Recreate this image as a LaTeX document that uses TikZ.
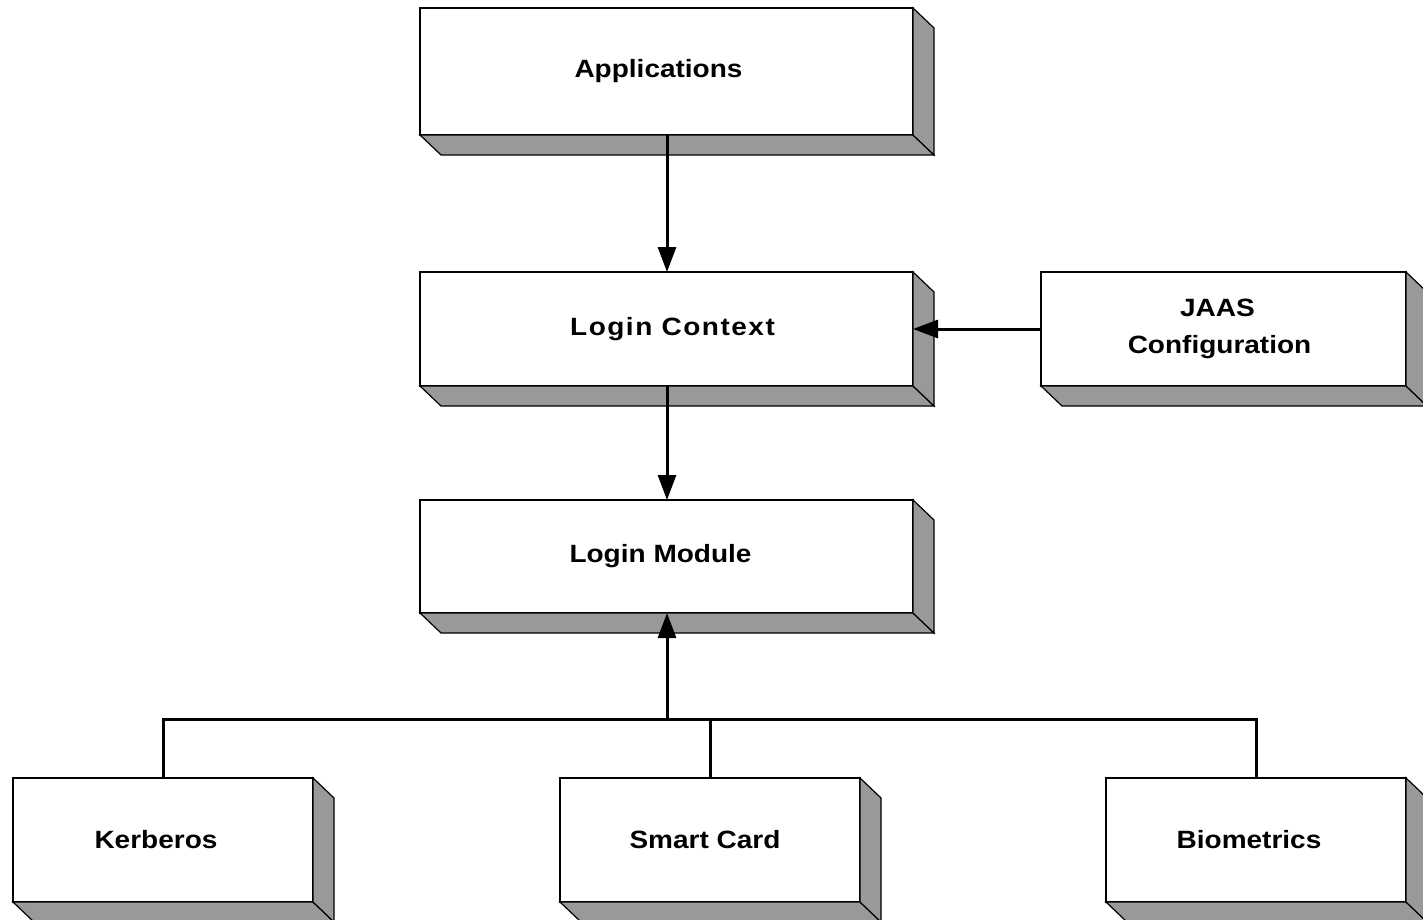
\documentclass[tikz,border=0pt]{standalone}
\usepackage{fontspec}
\usetikzlibrary{arrows.meta,calc}
\newfontfamily\labfont[FakeStretch=1.12]{Liberation Sans}
\newfontfamily\labfontwide[FakeStretch=1.12,LetterSpace=6]{Liberation Sans}
\definecolor{sidegray}{HTML}{999999}
\newcommand{\sh}[2]{\hspace*{#1pt}#2}
\tikzset{
  box/.style={draw=black, line width=1.5pt, fill=white, rectangle, outer sep=0pt, inner sep=0pt,
    align=center, font=\labfont\bfseries\fontsize{25}{37}\selectfont},
  side/.style={draw=black, line width=1.2pt, fill=sidegray, line join=miter},
  conn/.style={draw=black, line width=3pt},
  arr/.style={conn, -{Triangle[length=25pt,width=18pt]}},
}
\newcommand{\depthbox}[1]{%
  \path[side] (#1.south west) -- (#1.south east) -- ($(#1.south east)+(21,20)$) -- ($(#1.south west)+(21,20)$) -- cycle;
  \path[side] (#1.north east) -- ($(#1.north east)+(21,20)$) -- ($(#1.south east)+(21,20)$) -- (#1.south east) -- cycle;
}
\begin{document}
\begin{tikzpicture}[x=1pt,y=-1pt]
\useasboundingbox (0,0) rectangle (1423,920);
\node[box, minimum width=493pt, minimum height=127pt] (app) at (666.5,71.5) {\sh{-16}{Applications}};
\node[box, minimum width=493pt, minimum height=114pt] (lc) at (666.5,329) {\labfontwide\hspace*{12pt}Login Context};
\node[box, minimum width=365pt, minimum height=114pt] (jaas) at (1223.5,329) {\sh{-12}{JAAS}\\\sh{-8}{Configuration}};
\node[box, minimum width=493pt, minimum height=113pt] (lm) at (666.5,556.5) {\sh{-12}{Login Module}};
\node[box, minimum width=300pt, minimum height=124pt] (kerb) at (163,840) {\sh{-14}{Kerberos}};
\node[box, minimum width=300pt, minimum height=124pt] (smart) at (710,840) {\sh{-10}{Smart Card}};
\node[box, minimum width=300pt, minimum height=124pt] (bio) at (1256,840) {\sh{-14}{Biometrics}};
\depthbox{app}
\depthbox{lc}
\depthbox{jaas}
\depthbox{lm}
\depthbox{kerb}
\depthbox{smart}
\depthbox{bio}
\coordinate (j) at (667,719);
\draw[arr] (app.south -| j) -- (lc.north -| j);
\draw[arr] (lc.south -| j) -- (lm.north -| j);
\draw[arr] (jaas.west) -- (lc.east);
\draw[conn] (kerb.north) |- (bio.north |- j) -- (bio.north);
\draw[conn] (smart.north) -- (smart.north |- j);
\draw[arr] (j) -- (lm.south -| j);
\end{tikzpicture}
\end{document}
